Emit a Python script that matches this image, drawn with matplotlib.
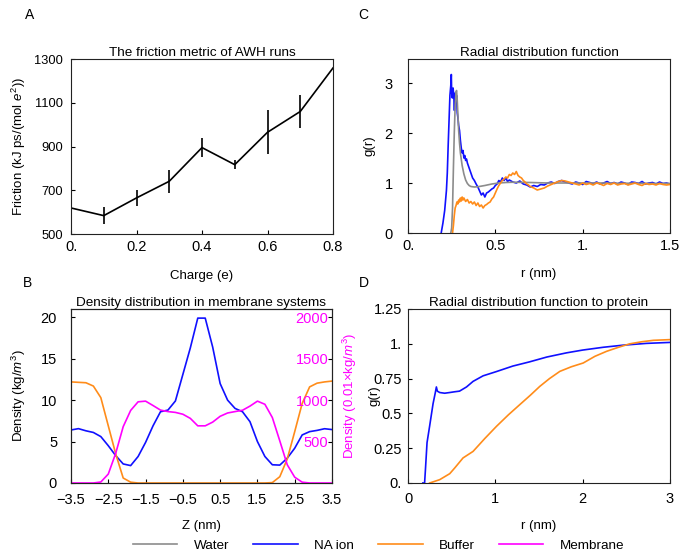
import numpy as np
import matplotlib
matplotlib.use('Agg')
import matplotlib.pyplot as plt
from matplotlib.lines import Line2D

plt.rcParams['font.family'] = ['Liberation Sans', 'DejaVu Sans']
plt.rcParams['mathtext.fontset'] = 'custom'
plt.rcParams['mathtext.rm'] = 'Liberation Sans'
plt.rcParams['mathtext.it'] = 'Liberation Sans:italic'

WATER = '#8c8c8c'
NA = '#1010ff'
BUF = '#ff8c1a'
MEM = '#ff00ff'

# ---- A: friction metric ----
charge = [0.0, 0.1, 0.2, 0.3, 0.4, 0.5, 0.6, 0.7, 0.8]
friction = [619, 584, 665, 741, 895, 817, 965, 1060, 1259]
friction_err = [0, 38, 37, 53, 42, 20, 100, 77, 0]

# ---- C: radial distribution function ----
c_r_water = [0.245, 0.25, 0.255, 0.26, 0.265, 0.27, 0.275, 0.278, 0.282, 0.286,
             0.29, 0.295, 0.30, 0.31, 0.32, 0.33, 0.34, 0.35, 0.36, 0.38,
             0.40, 0.44, 0.48, 0.52, 0.56, 0.60, 0.70, 0.80, 0.90, 1.0,
             1.1, 1.2, 1.3, 1.4, 1.5]
c_g_water = [0, 0.1, 0.5, 1.3, 2.0, 2.55, 2.82, 2.85, 2.65, 2.35,
             2.05, 1.8, 1.6, 1.35, 1.18, 1.06, 0.99, 0.95, 0.93, 0.92,
             0.925, 0.95, 0.98, 1.0, 1.01, 1.015, 1.01, 1.0, 1.0, 1.0,
             1.0, 0.995, 0.995, 0.99, 0.99]

c_r_na = [0.19, 0.20, 0.21, 0.22, 0.225, 0.23, 0.235, 0.24, 0.245, 0.248,
          0.25, 0.254, 0.258, 0.262, 0.266, 0.27, 0.274, 0.278, 0.282, 0.286,
          0.29, 0.295, 0.30, 0.305, 0.31, 0.315, 0.32, 0.325, 0.33, 0.335,
          0.34, 0.35, 0.36, 0.37, 0.38, 0.39, 0.40, 0.41, 0.42, 0.43,
          0.44, 0.45, 0.46, 0.47, 0.48, 0.49, 0.50, 0.51, 0.52, 0.53,
          0.54, 0.55, 0.56, 0.57, 0.58, 0.60, 0.62, 0.64, 0.66, 0.68,
          0.70, 0.72, 0.74, 0.76, 0.78, 0.80, 0.82, 0.84, 0.86, 0.88,
          0.90, 0.92, 0.94, 0.96, 0.98, 1.00, 1.02, 1.04, 1.06, 1.08,
          1.10, 1.12, 1.14, 1.16, 1.18, 1.20, 1.22, 1.24, 1.26, 1.28,
          1.30, 1.32, 1.34, 1.36, 1.38, 1.40, 1.42, 1.44, 1.46, 1.48,
          1.50]
c_g_na = [0, 0.2, 0.45, 0.85, 1.2, 1.75, 2.25, 2.75, 2.95, 3.17,
          2.8, 2.7, 2.9, 2.75, 2.45, 2.8, 2.6, 2.75, 2.4, 2.3,
          2.15, 2.05, 1.85, 1.7, 1.6, 1.65, 1.5, 1.55, 1.45, 1.48,
          1.4, 1.3, 1.2, 1.1, 1.05, 0.98, 0.92, 0.84, 0.76, 0.8,
          0.72, 0.8, 0.82, 0.85, 0.88, 0.9, 0.95, 0.98, 1.05, 1.02,
          1.1, 1.05, 1.1, 1.03, 1.06, 1.02, 1.0, 1.04, 0.98, 0.96,
          0.92, 0.95, 0.93, 0.97, 0.96, 1.0, 1.02, 0.99, 1.03, 1.05,
          1.02, 1.0, 0.98, 1.02, 1.0, 0.97, 1.03, 1.01, 0.99, 1.02,
          0.98, 1.0, 1.03, 0.99, 1.01, 0.98, 1.02, 1.0, 0.97, 1.02,
          1.01, 0.99, 1.03, 0.98, 1.0, 1.01, 0.98, 1.02, 0.99, 1.0,
          0.98]

c_r_buf = [0.255, 0.26, 0.265, 0.27, 0.275, 0.28, 0.285, 0.29, 0.295, 0.30,
           0.305, 0.31, 0.315, 0.32, 0.33, 0.34, 0.35, 0.36, 0.37, 0.38,
           0.39, 0.40, 0.41, 0.42, 0.43, 0.44, 0.45, 0.46, 0.47, 0.48,
           0.49, 0.50, 0.51, 0.52, 0.53, 0.54, 0.55, 0.56, 0.57, 0.58,
           0.59, 0.60, 0.61, 0.62, 0.63, 0.64, 0.65, 0.66, 0.67, 0.68,
           0.69, 0.70, 0.72, 0.74, 0.76, 0.78, 0.80, 0.82, 0.84, 0.86,
           0.88, 0.90, 0.92, 0.94, 0.96, 0.98, 1.00, 1.02, 1.04, 1.06,
           1.08, 1.10, 1.12, 1.14, 1.16, 1.18, 1.20, 1.22, 1.24, 1.26,
           1.28, 1.30, 1.32, 1.34, 1.36, 1.38, 1.40, 1.42, 1.44, 1.46,
           1.48, 1.50]
c_g_buf = [0, 0.15, 0.35, 0.5, 0.55, 0.62, 0.58, 0.66, 0.62, 0.7,
           0.64, 0.72, 0.66, 0.7, 0.63, 0.67, 0.6, 0.63, 0.58, 0.62,
           0.55, 0.6, 0.53, 0.56, 0.5, 0.55, 0.57, 0.6, 0.62, 0.68,
           0.72, 0.8, 0.88, 0.95, 1.0, 1.05, 1.08, 1.12, 1.1, 1.17,
           1.15, 1.2, 1.17, 1.23, 1.15, 1.12, 1.1, 1.05, 1.02, 0.98,
           0.96, 0.93, 0.9, 0.86, 0.88, 0.9, 0.94, 0.97, 1.0, 1.03,
           1.05, 1.04, 1.02, 1.0, 0.98, 0.96, 1.0, 0.97, 0.99, 0.96,
           1.0, 0.98, 0.95, 0.99, 0.97, 1.0, 0.96, 0.98, 0.99, 0.96,
           0.98, 1.0, 0.97, 0.95, 0.99, 0.97, 0.98, 0.96, 0.99, 0.97,
           0.96, 0.97]

# ---- B: density across the membrane ----
z = [-3.5, -3.3, -3.1, -2.9, -2.7, -2.5, -2.3, -2.1, -1.9, -1.7,
     -1.5, -1.3, -1.1, -0.9, -0.7, -0.5, -0.3, -0.1, 0.1, 0.3,
     0.5, 0.7, 0.9, 1.1, 1.3, 1.5, 1.7, 1.9, 2.1, 2.3,
     2.5, 2.7, 2.9, 3.1, 3.3, 3.5]
dens_na = [6.4, 6.56, 6.3, 6.1, 5.6, 4.5, 3.3, 2.3, 2.1, 3.2,
           4.9, 6.9, 8.6, 8.8, 9.9, 13.1, 16.3, 19.9, 19.9, 16.4,
           12.0, 10.0, 9.0, 8.6, 7.4, 5.0, 3.2, 2.2, 2.16, 3.0,
           4.2, 5.8, 6.2, 6.35, 6.55, 6.45]
dens_buf = [12.2, 12.15, 12.1, 11.7, 10.3, 6.9, 3.5, 0.6, 0.1, 0,
            0, 0, 0, 0, 0, 0, 0, 0, 0, 0,
            0, 0, 0, 0, 0, 0, 0, 0.05, 0.76, 2.9,
            6.2, 9.6, 11.6, 12.05, 12.2, 12.3]
dens_mem = [0, 0, 0, 0, 12, 108, 360, 680, 876, 980,
            988, 935, 880, 862, 852, 830, 780, 690, 690, 735,
            805, 845, 862, 878, 928, 988, 950, 790, 508, 220,
            70, 10, 0, 0, 0, 0]

# ---- D: rdf to protein ----
d_r_na = [0.17, 0.19, 0.20, 0.218, 0.248, 0.287, 0.313, 0.325, 0.336, 0.363,
          0.42, 0.478, 0.53, 0.59, 0.67, 0.745, 0.86, 1.01, 1.2, 1.39,
          1.59, 1.815, 2.0, 2.235, 2.46, 2.73, 3.0]
d_g_na = [0, 0, 0.1, 0.29, 0.41, 0.57, 0.65, 0.69, 0.66, 0.65,
          0.645, 0.65, 0.655, 0.66, 0.69, 0.73, 0.77, 0.8, 0.84, 0.87,
          0.905, 0.935, 0.955, 0.975, 0.99, 1.003, 1.01]
d_r_buf = [0.248, 0.363, 0.478, 0.535, 0.63, 0.745, 0.88, 1.013, 1.15, 1.28,
           1.4, 1.509, 1.62, 1.739, 1.87, 2.006, 2.14, 2.274, 2.41, 2.54,
           2.68, 2.81, 3.0]
d_g_buf = [0, 0.024, 0.067, 0.108, 0.18, 0.227, 0.32, 0.407, 0.49, 0.563,
           0.63, 0.694, 0.75, 0.802, 0.835, 0.862, 0.91, 0.946, 0.975, 1.0,
           1.015, 1.025, 1.03]

W, H = 687, 560
fig = plt.figure(figsize=(6.87, 5.6), dpi=100)


def box(l, t, r, b):
    return [l / W, 1 - b / H, (r - l) / W, (b - t) / H]


def frame(ax, xpad, ypad, size=10.5):
    for s in ax.spines.values():
        s.set_linewidth(0.8)
        s.set_color('#222222')
    ax.tick_params(direction='in', length=3, width=0.8, labelsize=size)
    ax.tick_params(axis='x', pad=xpad)
    ax.tick_params(axis='y', pad=ypad)


lw = 1.2

# A
axA = fig.add_axes(box(71, 59, 333, 234))
axA.errorbar(charge, friction, yerr=friction_err, color='k', lw=lw,
             elinewidth=lw, capsize=0)
axA.set_xlim(0, 0.8)
axA.set_ylim(500, 1300)
axA.set_xticks([0, 0.2, 0.4, 0.6, 0.8])
axA.set_xticklabels(['0.', '0.2', '0.4', '0.6', '0.8'])
axA.set_yticks([500, 700, 900, 1100, 1300])
frame(axA, 4.3, 5.8)
axA.tick_params(axis='y', labelsize=9.3)
axA.set_title('The friction metric of AWH runs', fontsize=9.7, pad=1.5)
axA.set_xlabel('Charge (e)', fontsize=9.5)
axA.set_ylabel(r'Friction (kJ ps/(mol $e^{2}$))', fontsize=9.5)
axA.xaxis.set_label_coords(0.5, -0.203)
axA.yaxis.set_label_coords(-0.163, 0.5)

# C
axC = fig.add_axes(box(408, 59, 670, 233))
axC.plot(c_r_na, c_g_na, color=NA, lw=lw)
axC.plot(c_r_water, c_g_water, color=WATER, lw=lw)
axC.plot(c_r_buf, c_g_buf, color=BUF, lw=lw)
axC.set_xlim(0, 1.5)
axC.set_ylim(0, 3.48)
axC.set_xticks([0, 0.5, 1.0, 1.5])
axC.set_xticklabels(['0.', '0.5', '1.', '1.5'])
axC.set_yticks([0, 1, 2, 3])
axC.set_yticklabels(['0', '1', '2', '3'])
frame(axC, 4.3, 11)
axC.set_title('Radial distribution function', fontsize=9.7, pad=1.5)
axC.set_xlabel('r (nm)', fontsize=9.5)
axC.set_ylabel('g(r)', fontsize=9.5)
axC.xaxis.set_label_coords(0.5, -0.204)
axC.yaxis.set_label_coords(-0.124, 0.5)

# B
axB = fig.add_axes(box(71, 309, 332, 483))
axB.plot(z, dens_na, color=NA, lw=lw)
axB.plot(z, dens_buf, color=BUF, lw=lw)
axB.set_xlim(-3.5, 3.5)
axB.set_ylim(0, 21)
xt = [-3.5, -2.5, -1.5, -0.5, 0.5, 1.5, 2.5, 3.5]
axB.set_xticks(xt)
axB.set_xticklabels([('%.1f' % v).replace('-', '\u2212') for v in xt])
axB.set_yticks([0, 5, 10, 15, 20])
frame(axB, 7.5, 10)
axB.set_title('Density distribution in membrane systems', fontsize=9.7, pad=1.6)
axB.set_xlabel('Z (nm)', fontsize=9.5)
axB.set_ylabel(r'Density (kg/$m^{3}$)', fontsize=9.5)
axB.xaxis.set_label_coords(0.5, -0.21)
axB.yaxis.set_label_coords(-0.165, 0.5)

axB2 = axB.twinx()
axB2.plot(z, dens_mem, color=MEM, lw=lw)
axB2.set_ylim(0, 2100)
axB2.set_yticks([500, 1000, 1500, 2000])
axB2.tick_params(axis='y', direction='in', length=3, width=0.8, pad=-2.5,
                 labelcolor=MEM, labelsize=10.5)
plt.setp(axB2.get_yticklabels(), ha='right')
axB2.set_ylabel(r'Density (0.01$\times$kg/$m^{3}$)', fontsize=9.5, color=MEM)
axB2.yaxis.set_label_coords(1.033, 0.5)
for s in axB2.spines.values():
    s.set_linewidth(0.8)
    s.set_color('#222222')

# D
axD = fig.add_axes(box(408, 309, 670, 483))
axD.plot(d_r_na, d_g_na, color=NA, lw=lw)
axD.plot(d_r_buf, d_g_buf, color=BUF, lw=lw)
axD.set_xlim(0, 3)
axD.set_ylim(0, 1.25)
axD.set_xticks([0, 1, 2, 3])
axD.set_yticks([0, 0.25, 0.5, 0.75, 1.0, 1.25])
axD.set_yticklabels(['0.', '0.25', '0.5', '0.75', '1.', '1.25'])
frame(axD, 6.5, 4.3)
axD.set_title('Radial distribution function to protein', fontsize=9.7, pad=1.6)
axD.set_xlabel('r (nm)', fontsize=9.5)
axD.set_ylabel('g(r)', fontsize=9.5)
axD.xaxis.set_label_coords(0.5, -0.21)
axD.yaxis.set_label_coords(-0.104, 0.5)

# panel letters
for lab, px, py in [('A', 30, 15), ('C', 363, 15), ('B', 27, 283), ('D', 364, 283)]:
    fig.text(px / W, 1 - py / H, lab, ha='center', va='center', fontsize=10)

handles = [Line2D([], [], color=c, lw=lw) for c in (WATER, NA, BUF, MEM)]
fig.legend(handles, ['Water', 'NA ion', 'Buffer', 'Membrane'], loc='center',
           bbox_to_anchor=(0.551, 1 - 545.7 / H), ncol=4, frameon=False,
           fontsize=9.7, handlelength=3.3, handletextpad=1.2,
           columnspacing=1.8)

fig.savefig('out.png', dpi=100)
